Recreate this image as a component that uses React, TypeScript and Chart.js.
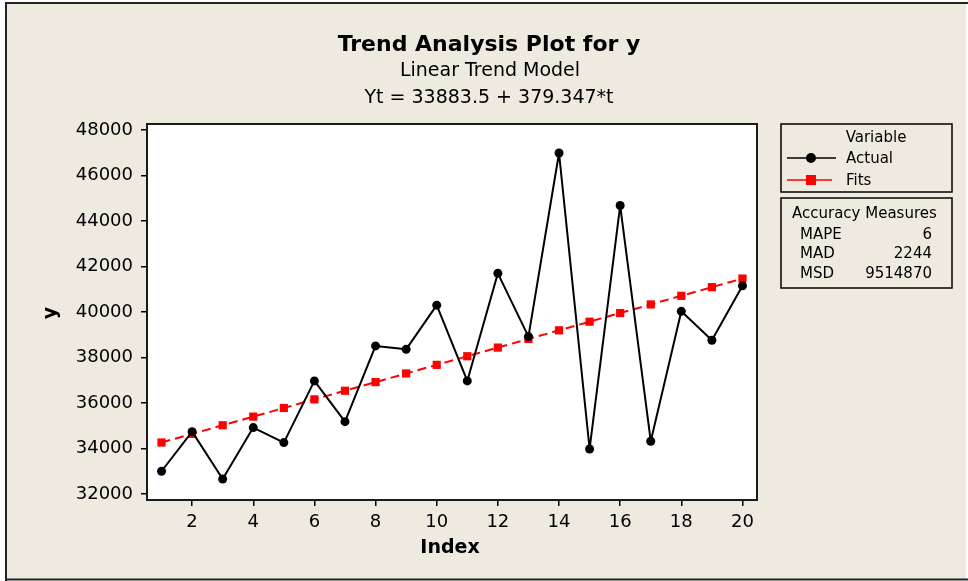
import React, { useEffect, useRef } from "react";
import { Chart, registerables } from "chart.js";

Chart.register(...registerables);

const indexValues = [1, 2, 3, 4, 5, 6, 7, 8, 9, 10, 11, 12, 13, 14, 15, 16, 17, 18, 19, 20];
const actualValues = [33000, 34740, 32660, 34920, 34260, 36970, 35180, 38510, 38360, 40300, 36970, 41700, 38920, 46990, 33980, 44680, 34320, 40030, 38760, 41150];
const fitsValues = [34262.8, 34642.2, 35021.5, 35400.9, 35780.2, 36159.6, 36538.9, 36918.3, 37297.6, 37677.0, 38056.3, 38435.7, 38815.0, 39194.4, 39573.7, 39953.1, 40332.4, 40711.8, 41091.1, 41470.4];
const xTicks = [2, 4, 6, 8, 10, 12, 14, 16, 18, 20];
const yTicks = [32000, 34000, 36000, 38000, 40000, 42000, 44000, 46000, 48000];

const titleText = "Trend Analysis Plot for y";
const subtitleLines = ["Linear Trend Model", "Yt = 33883.5 + 379.347*t"];
const xTitle = "Index";
const yTitle = "y";
const accuracyLabels = ["MAPE", "MAD", "MSD"];
const accuracyValues = ["6", "2244", "9514870"];

const FONT = '"DejaVu Sans", Verdana, sans-serif';
const BG = "#EEEAE0";

const decor = {
  id: "decor",
  beforeDraw(chart: any) {
    const ctx = chart.ctx;
    const { chartArea } = chart;
    ctx.save();
    ctx.fillStyle = "#ffffff";
    ctx.fillRect(0, 0, chart.width, chart.height);
    ctx.fillStyle = BG;
    ctx.fillRect(6, 3, 960, 577);
    ctx.fillStyle = "#ffffff";
    ctx.fillRect(chartArea.left, chartArea.top, chartArea.right - chartArea.left, chartArea.bottom - chartArea.top);
    ctx.restore();
  },
  afterDraw(chart: any) {
    const ctx = chart.ctx;
    const { chartArea } = chart;
    ctx.save();
    // frame
    ctx.strokeStyle = "#222";
    ctx.lineWidth = 2;
    ctx.beginPath();
    ctx.moveTo(6, 581);
    ctx.lineTo(6, 3);
    ctx.lineTo(968, 3);
    ctx.moveTo(5, 579.5);
    ctx.lineTo(968, 579.5);
    ctx.stroke();
    // plot border
    ctx.strokeStyle = "#1a1a1a";
    ctx.lineWidth = 2;
    ctx.strokeRect(chartArea.left, chartArea.top, chartArea.right - chartArea.left, chartArea.bottom - chartArea.top);

    // titles
    ctx.fillStyle = "#000";
    ctx.textAlign = "center";
    ctx.textBaseline = "middle";
    ctx.font = `bold 22px ${FONT}`;
    ctx.fillText(titleText, 489, 45);
    ctx.font = `19px ${FONT}`;
    ctx.fillText(subtitleLines[0], 490, 71);
    ctx.fillText(subtitleLines[1], 489, 98);

    // axis titles
    ctx.font = `bold 19px ${FONT}`;
    ctx.fillText(xTitle, 450, 548);
    ctx.save();
    ctx.translate(51, 313);
    ctx.rotate(-Math.PI / 2);
    ctx.fillText(yTitle, 0, 0);
    ctx.restore();

    // legend box 1
    ctx.strokeStyle = "#000";
    ctx.lineWidth = 1.5;
    ctx.strokeRect(781, 124, 171, 68);
    ctx.font = `15px ${FONT}`;
    ctx.textAlign = "center";
    ctx.fillText("Variable", 876, 138);
    ctx.textAlign = "left";
    ctx.fillText("Actual", 846, 159);
    ctx.fillText("Fits", 846, 181);
    ctx.beginPath();
    ctx.strokeStyle = "#000";
    ctx.lineWidth = 1.5;
    ctx.moveTo(787, 158);
    ctx.lineTo(836, 158);
    ctx.stroke();
    ctx.beginPath();
    ctx.fillStyle = "#000";
    ctx.arc(811, 158, 5, 0, Math.PI * 2);
    ctx.fill();
    ctx.beginPath();
    ctx.strokeStyle = "#ff0000";
    ctx.moveTo(787, 180);
    ctx.lineTo(832, 180);
    ctx.stroke();
    ctx.fillStyle = "#ff0000";
    ctx.fillRect(806, 175, 10, 10);

    // legend box 2
    ctx.fillStyle = "#000";
    ctx.strokeStyle = "#000";
    ctx.strokeRect(781, 198, 171, 90);
    ctx.textAlign = "left";
    ctx.fillText("Accuracy Measures", 792, 214);
    const ys = [235, 254, 274];
    accuracyLabels.forEach((l, i) => {
      ctx.textAlign = "left";
      ctx.fillText(l, 800, ys[i]);
      ctx.textAlign = "right";
      ctx.fillText(accuracyValues[i], 932, ys[i]);
    });
    ctx.restore();
  },
};

export default function App() {
  const ref = useRef<HTMLCanvasElement | null>(null);
  useEffect(() => {
    document.body.style.margin = "0";
    const canvas = ref.current!;
    const chart = new Chart(canvas, {
      type: "line",
      data: {
        datasets: [
          {
            label: "Actual",
            data: indexValues.map((x, i) => ({ x, y: actualValues[i] })),
            borderColor: "#000",
            backgroundColor: "#000",
            borderWidth: 2,
            borderJoinStyle: "round",
            pointRadius: 4.5,
            pointStyle: "circle",
            pointBorderWidth: 0,
            tension: 0,
          },
          {
            label: "Fits",
            data: indexValues.map((x, i) => ({ x, y: fitsValues[i] })),
            borderColor: "#ff0000",
            backgroundColor: "#ff0000",
            borderWidth: 2,
            borderDash: [9, 5],
            pointRadius: 5.8,
            pointStyle: "rect",
            pointBorderWidth: 0,
            tension: 0,
          },
        ],
      },
      options: {
        responsive: false,
        animation: false,
        devicePixelRatio: 1,
        layout: { padding: { top: 124, right: 211, left: 0, bottom: 0 } },
        plugins: { legend: { display: false }, tooltip: { enabled: false }, title: { display: false } },
        scales: {
          x: {
            type: "linear",
            min: 0.525,
            max: 20.475,
            afterBuildTicks: (s: any) => {
              s.ticks = xTicks.map((v) => ({ value: v }));
            },
            afterFit: (s: any) => {
              s.height = 81;
            },
            grid: { drawOnChartArea: false, drawTicks: true, tickLength: 6, color: "#000", lineWidth: 1.5 },
            border: { display: false },
            ticks: { color: "#000", font: { family: FONT, size: 18 }, padding: 6, maxRotation: 0, autoSkip: false, callback: (v: any) => String(v) },
          },
          y: {
            type: "linear",
            min: 31736,
            max: 48264,
            afterBuildTicks: (s: any) => {
              s.ticks = yTicks.map((v) => ({ value: v }));
            },
            afterFit: (s: any) => {
              s.width = 147;
            },
            grid: { drawOnChartArea: false, drawTicks: true, tickLength: 6, color: "#000", lineWidth: 1.5 },
            border: { display: false },
            ticks: { color: "#000", font: { family: FONT, size: 18 }, padding: 8, autoSkip: false, callback: (v: any) => String(v) },
          },
        },
      },
      plugins: [decor],
    });
    return () => chart.destroy();
  }, []);
  return <canvas ref={ref} width={968} height={581} style={{ display: "block", width: 968, height: 581 }} />;
}
